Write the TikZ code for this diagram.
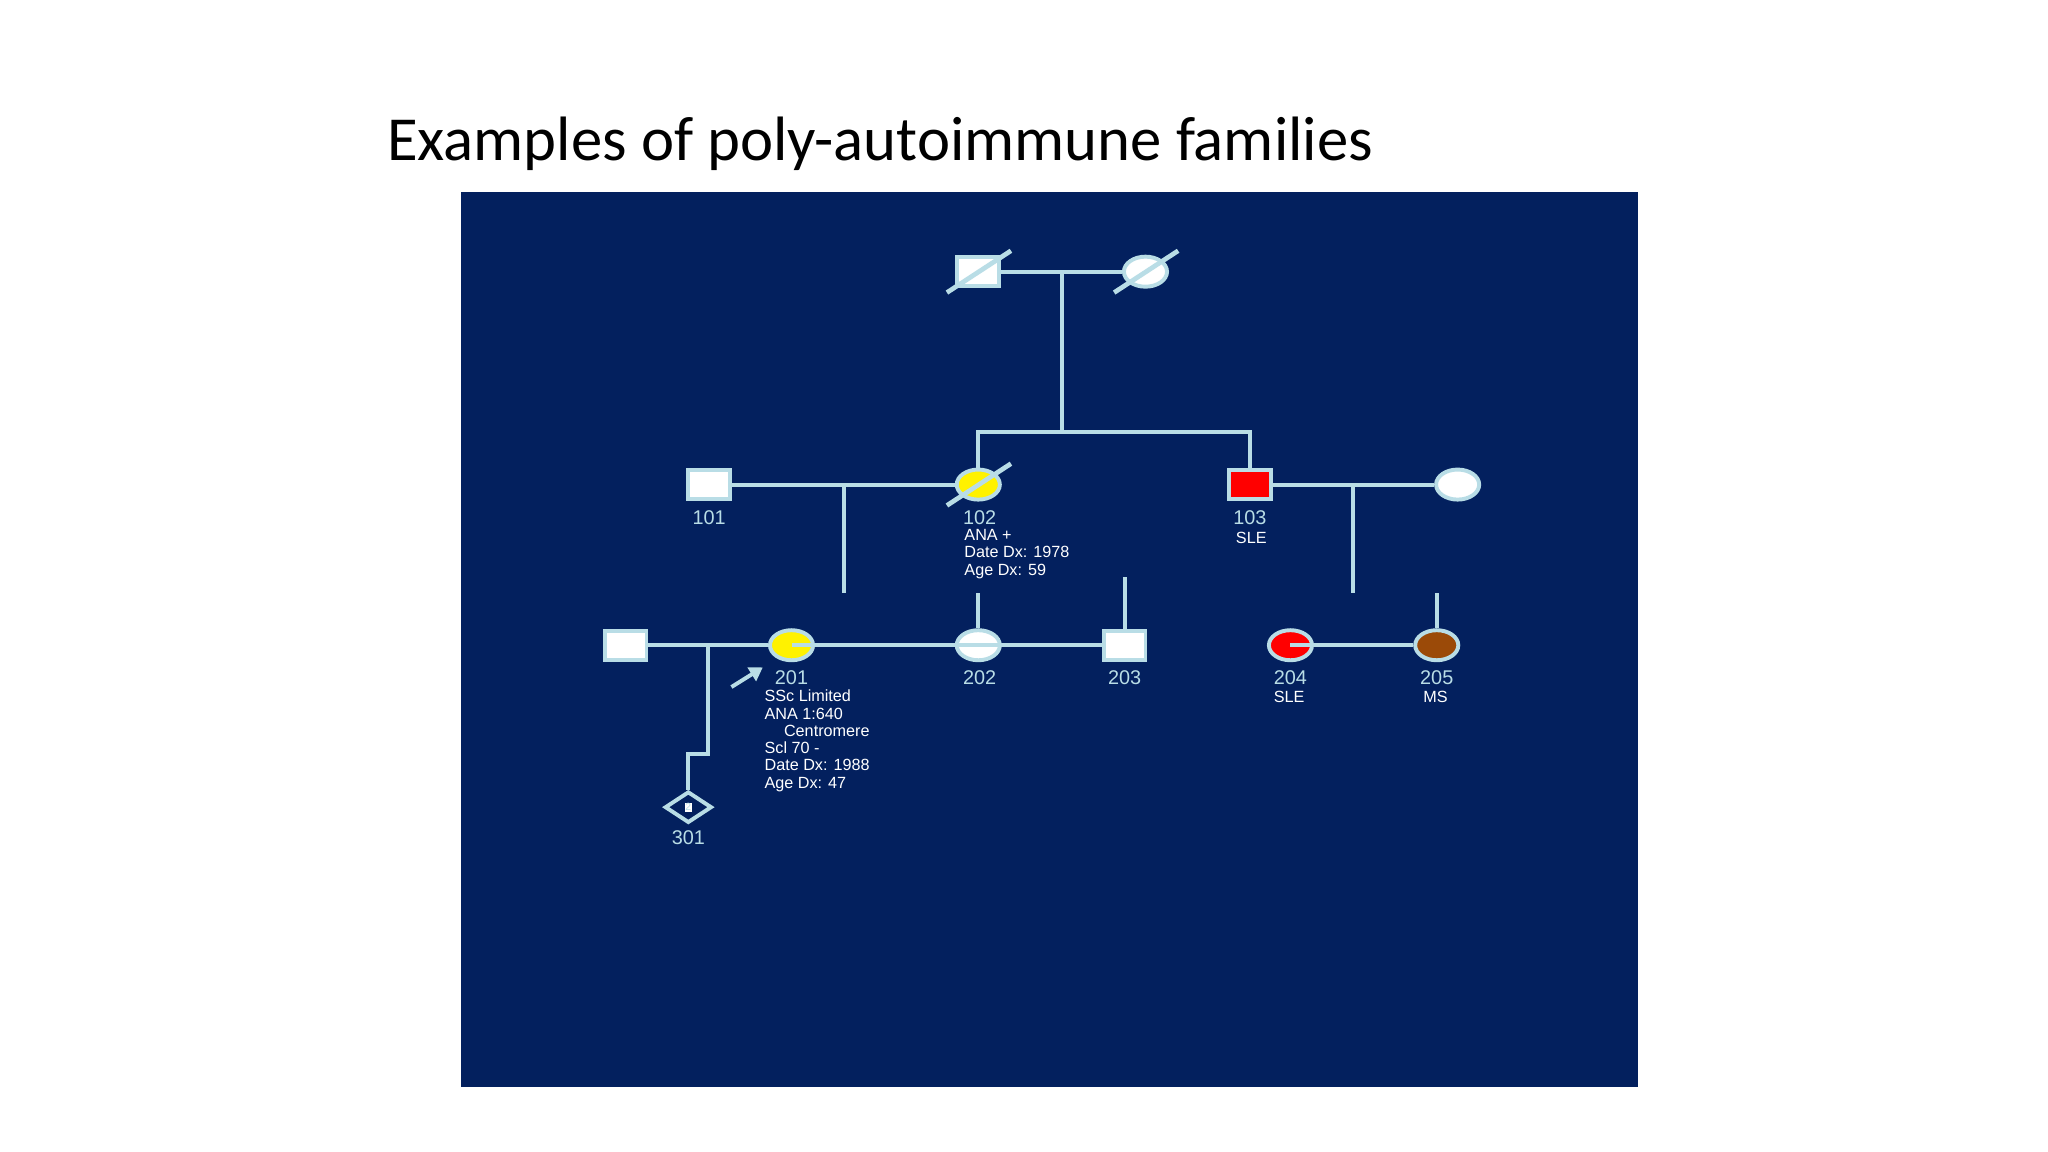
\documentclass[tikz,border=0pt]{standalone}
\usepackage{fontspec}
\setmainfont{Liberation Sans}
\newfontfamily\titlefont{Carlito}
\usetikzlibrary{shapes.geometric,arrows.meta}
\definecolor{navy}{HTML}{03205E}
\definecolor{lb}{HTML}{B9DDE6}
\definecolor{brownish}{HTML}{9B4A08}
\begin{document}
\begin{tikzpicture}[x=0.5pt,y=-0.5pt,
  ln/.style={draw=lb,line width=1.5pt},
  sq/.style={rectangle,draw=lb,line width=1.5pt,fill=white,minimum width=16pt,minimum height=11pt,inner sep=0pt},
  el/.style={ellipse,draw=lb,line width=1.5pt,fill=white,minimum width=16.5pt,minimum height=11.5pt,inner sep=0pt},
  num/.style={text=lb,font=\fontsize{7.6}{8}\selectfont,inner sep=0pt},
  sm/.style={text=white,font=\fontsize{6.2}{6.6}\selectfont,inner sep=0pt,align=left},
  slash/.style={draw=lb,line width=1.8pt}]
\useasboundingbox (0,0) rectangle (1568,882);
\fill[white] (0,0) rectangle (1568,882);
\node[anchor=west,font=\titlefont\fontsize{24}{26}\selectfont,inner sep=0pt] (title) at (296,110) {Examples of poly-autoimmune families};
\fill[navy] (353,147) rectangle (1254,832);
% generation I
\node[sq] (g1) at (749,208) {};
\node[el] (g2) at (877,208) {};
\draw[slash] (725,224) -- (774,192);
\draw[slash] (853,224) -- (902,192);
\coordinate (m1) at (813,208);
\draw[ln] (g1) -- (g2);
\coordinate (s1) at (813,331);
\draw[ln] (m1) -- (s1);
% generation II
\node[sq] (p101) at (543,371) {};
\node[el,fill=yellow] (p102) at (749,371) {};
\draw[slash] (725,387) -- (774,355);
\node[sq,fill=red] (p103) at (957,371) {};
\node[el] (w103) at (1116,371) {};
\draw[ln] (p102) |- (s1) -| (p103);
\draw[ln] (p101) -- (p102);
\draw[ln] (p103) -- (w103);
\node[num] (l101) at (543,396) {101};
\node[num] (l102) at (750,396) {102};
\node[num] (l103) at (957,396) {103};
\node[sm,anchor=north] (d103) at (958,407) {SLE};
\node[sm,anchor=north west] (d102) at (738,405) {ANA +\\Date Dx: 1978\\Age Dx: 59};
% children of 101x102
\coordinate (m2) at (646,371);
\coordinate (s2) at (646,454);
\draw[ln] (m2) -- (s2);
\node[el,fill=yellow] (p201) at (606,494) {};
\node[el] (p202) at (749,494) {};
\node[sq] (p203) at (861,494) {};
\draw[ln] (p201) |- (p203);
\draw[ln] (p203.north) -- ++(0,-40);
\draw[ln] (p202) -- (749,454);
% children of 103
\coordinate (m3) at (1036,371);
\coordinate (s3) at (1036,454);
\draw[ln] (m3) -- (s3);
\node[el,fill=red] (p204) at (988,494) {};
\node[el,fill=brownish] (p205) at (1100,494) {};
\draw[ln] (p204) |- (p205);
\draw[ln] (p205) -- (1100,454);
\node[num] (l201) at (606,519) {201};
\node[num] (l202) at (750,519) {202};
\node[num] (l203) at (861,519) {203};
\node[num] (l204) at (988,519) {204};
\node[num] (l205) at (1100,519) {205};
\node[sm,anchor=north] (d204) at (987,529) {SLE};
\node[sm,anchor=north] (d205) at (1099,529) {MS};
\node[sm,anchor=north west] (d201) at (585,528) {SSc Limited\\ANA 1:640\\\hspace{1.2em}Centromere\\Scl 70 -\\Date Dx: 1988\\Age Dx: 47};
% 201 spouse and child
\node[sq] (h201) at (479,494) {};
\draw[ln] (h201) -- (p201);
\node[diamond,draw=lb,line width=1.5pt,fill=navy,minimum width=18pt,minimum height=12pt,inner sep=0pt,aspect=1.5] (p301) at (527,618) {};
\node[text=lb,fill=white,inner sep=0.3pt,font=\fontsize{4}{4}\selectfont] (n301) at (527,618) {2};
\coordinate (m4) at (542,494);
\coordinate (k4) at (542,577);
\draw[ln] (m4) -- (k4) -| (p301.north);
\node[num] (l301) at (527,641) {301};
\coordinate (a1) at (560,526);
\coordinate (a2) at (584,511);
\draw[draw=lb,line width=1.5pt,-{Triangle[length=5pt,width=6pt]}] (a1) -- (a2);
\end{tikzpicture}
\end{document}
